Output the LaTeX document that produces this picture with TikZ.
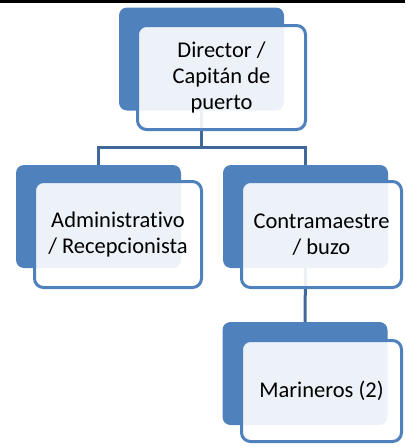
\documentclass[tikz,border=0pt]{standalone}
\usepackage{fontspec}
\setmainfont[Ligatures=NoCommon]{Carlito}
\usetikzlibrary{backgrounds}
\definecolor{boxblue}{RGB}{79,129,189}
\definecolor{lineblue}{RGB}{64,104,154}
\tikzset{
  backbox/.style={rectangle,rounded corners=8pt,fill=boxblue,minimum width=165pt,minimum height=103pt,inner sep=0pt},
  frontbox/.style={rectangle,rounded corners=9pt,draw=boxblue,line width=3pt,fill=white,fill opacity=0.9,text opacity=1,align=center,font=\fontsize{22.5}{26}\selectfont,inner sep=0pt},
  link/.style={draw=lineblue,line width=3pt}
}
\begin{document}
\begin{tikzpicture}[x=1pt,y=-1pt]
    \useasboundingbox (0,0) rectangle (405,447);
    \draw[line width=2.5pt] (0,1.25) -- (405,1.25);

    \node[backbox] at (201.5,59) (dirb) {};
    \node[frontbox,minimum width=168pt,minimum height=104pt] at (221.5,77.5) (dir) {Director /\\Capitán de\\puerto};

    \node[backbox] at (98.5,216.5) (admb) {};
    \node[frontbox,minimum width=167pt,minimum height=106pt] at (118,234.5) (adm) {Administrativo\\/ Recepcionista};

    \node[backbox] at (305.5,216.5) (conb) {};
    \node[frontbox,minimum width=160pt,minimum height=106pt] at (321.5,234.5) (con) {Contramaestre\\/ buzo};

    \node[backbox] at (305,373.5) (marb) {};
    \node[frontbox,minimum width=160pt,minimum height=101pt] at (321.5,391) (mar) {Marineros (2)};

    \coordinate (bar) at (0,147);
    \begin{scope}[on background layer]
        \draw[link] (admb.north) |- (dirb.south |- bar) -- (dirb.south);
        \draw[link] (conb.north) |- (dirb.south |- bar);
        \draw[link] (conb.south) -- (marb.north);
    \end{scope}
\end{tikzpicture}
\end{document}
